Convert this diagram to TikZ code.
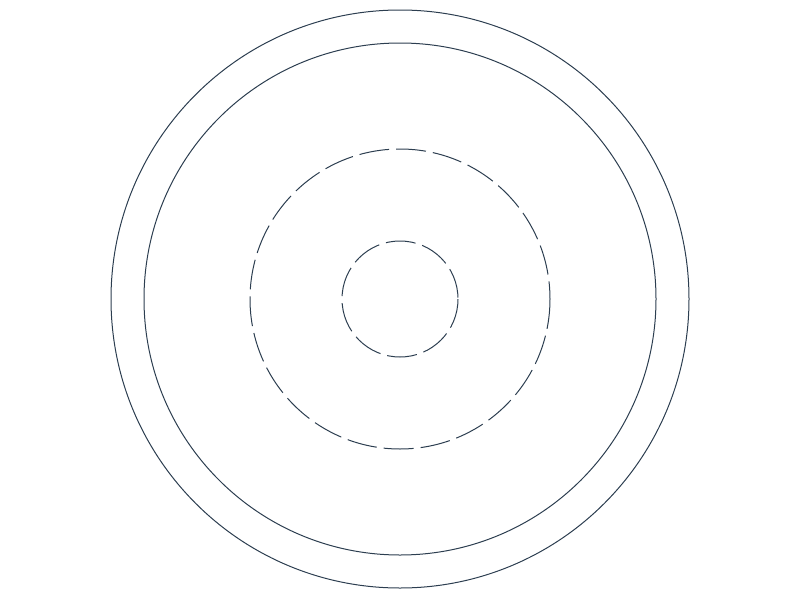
\documentclass[tikz,border=0pt]{standalone}
\definecolor{ringline}{RGB}{44,62,80}
\tikzset{every picture/.style={line width=0.75pt}}
\tikzset{ring/.style={draw=ringline}, dashring/.style={draw=ringline, dash pattern=on 22.5pt off 5.25pt}}
\begin{document}
\begin{tikzpicture}[x=0.75pt,y=0.75pt,yscale=-1,xscale=1]
		\useasboundingbox (0,0) rectangle (800,600);
		\coordinate (O) at (400,299);

		%Shape: Circle outer
		\draw [ring] (O) circle [radius=289];
		%Shape: Circle second
		\draw [ring] (O) circle [radius=256];
		%Shape: Circle dashed
		\draw [dashring] (O) circle [radius=150];
		%Shape: Circle dashed inner
		\draw [dashring] (O) circle [radius=58];

	\end{tikzpicture}
\end{document}
